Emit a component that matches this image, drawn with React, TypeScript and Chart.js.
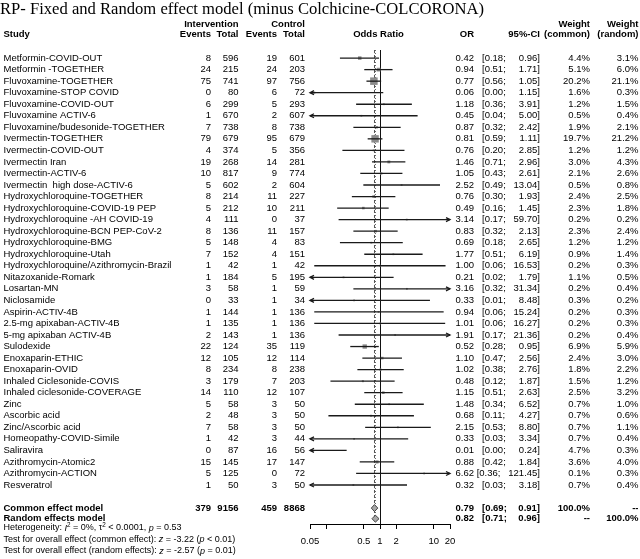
import { useEffect, useRef } from 'react';
import { Chart, registerables } from 'chart.js';

Chart.register(...registerables);

const FONT = '"Liberation Sans", Arial, sans-serif';
const SERIF = '"Liberation Serif", "Times New Roman", serif';

const titleText = 'RP- Fixed and Random effect model (minus Colchicine-COLCORONA)';

const studies = [
  'Metformin-COVID-OUT', 'Metformin -TOGETHER', 'Fluvoxamine-TOGETHER', 'Fluvoxamine-STOP COVID',
  'Fluvoxamine-COVID-OUT', 'Fluvoxamine ACTIV-6', 'Fluvoxamine/budesonide-TOGETHER', 'Ivermectin-TOGETHER',
  'Ivermectin-COVID-OUT', 'Ivermectin Iran', 'Ivermectin-ACTIV-6', 'Ivermectin  high dose-ACTIV-6',
  'Hydroxychloroquine-TOGETHER', 'Hydroxychloroquine-COVID-19 PEP', 'Hydroxychloroquine -AH COVID-19',
  'Hydroxychloroquine-BCN PEP-CoV-2', 'Hydroxychloroquine-BMG', 'Hydroxychloroquine-Utah',
  'Hydroxychloroquine/Azithromycin-Brazil', 'Nitazoxanide-Romark', 'Losartan-MN', 'Niclosamide',
  'Aspirin-ACTIV-4B', '2.5-mg apixaban-ACTIV-4B', '5-mg apixaban ACTIV-4B', 'Sulodexide',
  'Enoxaparin-ETHIC', 'Enoxaparin-OVID', 'Inhaled Ciclesonide-COVIS', 'Inhaled ciclesonide-COVERAGE',
  'Zinc', 'Ascorbic acid', 'Zinc/Ascorbic acid', 'Homeopathy-COVID-Simile', 'Saliravira',
  'Azithromycin-Atomic2', 'Azithromycin-ACTION', 'Resveratrol',
];
const intEvents = [8, 24, 75, 0, 6, 1, 7, 79, 4, 19, 10, 5, 8, 5, 4, 8, 5, 7, 1, 1, 3, 0, 1, 1, 2, 22, 12, 8, 3, 14, 5, 2, 7, 1, 0, 15, 5, 1];
const intTotal = [596, 215, 741, 80, 299, 670, 738, 679, 374, 268, 817, 602, 214, 212, 111, 136, 148, 152, 42, 184, 58, 33, 144, 135, 143, 124, 105, 234, 179, 110, 58, 48, 58, 42, 87, 145, 125, 50];
const ctrlEvents = [19, 24, 97, 6, 5, 2, 8, 95, 5, 14, 9, 2, 11, 10, 0, 11, 4, 4, 1, 5, 1, 1, 1, 1, 1, 35, 12, 8, 7, 12, 3, 3, 3, 3, 16, 17, 0, 3];
const ctrlTotal = [601, 203, 756, 72, 293, 607, 738, 679, 356, 281, 774, 604, 227, 211, 37, 157, 83, 151, 42, 195, 59, 34, 136, 136, 136, 119, 114, 238, 203, 107, 50, 50, 50, 44, 56, 147, 72, 50];
const orValues = [0.42, 0.94, 0.77, 0.06, 1.18, 0.45, 0.87, 0.81, 0.76, 1.46, 1.05, 2.52, 0.76, 0.49, 3.14, 0.83, 0.69, 1.77, 1.00, 0.21, 3.16, 0.33, 0.94, 1.01, 1.91, 0.52, 1.10, 1.02, 0.48, 1.15, 1.48, 0.68, 2.15, 0.33, 0.01, 0.88, 6.62, 0.32];
const ciLower = [0.18, 0.51, 0.56, 0.00, 0.36, 0.04, 0.32, 0.59, 0.20, 0.71, 0.43, 0.49, 0.30, 0.16, 0.17, 0.32, 0.18, 0.51, 0.06, 0.02, 0.32, 0.01, 0.06, 0.06, 0.17, 0.28, 0.47, 0.38, 0.12, 0.51, 0.34, 0.11, 0.53, 0.03, 0.00, 0.42, 0.36, 0.03];
const ciUpper = [0.96, 1.71, 1.05, 1.15, 3.91, 5.00, 2.42, 1.11, 2.85, 2.96, 2.61, 13.04, 1.93, 1.45, 59.70, 2.13, 2.65, 6.19, 16.53, 1.79, 31.34, 8.48, 15.24, 16.27, 21.36, 0.95, 2.56, 2.76, 1.87, 2.63, 6.52, 4.27, 8.80, 3.34, 0.24, 1.84, 121.45, 3.18];
const weightCommon = [4.4, 5.1, 20.2, 1.6, 1.2, 0.5, 1.9, 19.7, 1.2, 3.0, 2.1, 0.5, 2.4, 2.3, 0.2, 2.3, 1.2, 0.9, 0.2, 1.1, 0.2, 0.3, 0.2, 0.2, 0.2, 6.9, 2.4, 1.8, 1.5, 2.5, 0.7, 0.7, 0.7, 0.7, 4.7, 3.6, 0.1, 0.7];
const weightRandom = [3.1, 6.0, 21.1, 0.3, 1.5, 0.4, 2.1, 21.2, 1.2, 4.3, 2.6, 0.8, 2.5, 1.8, 0.2, 2.4, 1.2, 1.4, 0.3, 0.5, 0.4, 0.2, 0.3, 0.3, 0.4, 5.9, 3.0, 2.2, 1.2, 3.2, 1.0, 0.6, 1.1, 0.4, 0.3, 4.0, 0.3, 0.4];

const pooledLabels = ['Common effect model', 'Random effects model'];
const pooledOR = [0.79, 0.82];
const pooledLower = [0.69, 0.71];
const pooledUpper = [0.91, 0.96];
const pooledWeightCommon = ['100.0%', '--'];
const pooledWeightRandom = ['--', '100.0%'];
const totals = [379, 9156, 459, 8868];

const tickValues = [0.05, 0.1, 0.5, 1, 2, 10, 20];
const tickLabels = ['0.05', '', '0.5', '1', '2', '10', '20'];

type Seg = { t: string; italic?: boolean; sup?: boolean };
const statLines: Seg[][] = [
  [{ t: 'Heterogeneity: ' }, { t: 'I', italic: true }, { t: '2', sup: true }, { t: ' = 0%, ' }, { t: '\u03c4' }, { t: '2', sup: true }, { t: ' < 0.0001, ' }, { t: 'p', italic: true }, { t: ' = 0.53' }],
  [{ t: 'Test for overall effect (common effect): ' }, { t: 'z', italic: true }, { t: ' = -3.22 (' }, { t: 'p', italic: true }, { t: ' < 0.01)' }],
  [{ t: 'Test for overall effect (random effects): ' }, { t: 'z', italic: true }, { t: ' = -2.57 (' }, { t: 'p', italic: true }, { t: ' = 0.01)' }],
];

const X_MIN = 0.05;
const X_MAX = 20;
const ROW_COMMON = 40;
const ROW_RANDOM = 40.92;

function drawRich(ctx: CanvasRenderingContext2D, segs: Seg[], x: number, y: number, size: number) {
  let cx = x;
  for (const s of segs) {
    const fs = s.sup ? size * 0.7 : size;
    ctx.font = `${s.italic ? 'italic ' : ''}${fs}px ${FONT}`;
    ctx.fillText(s.t, cx, s.sup ? y - size * 0.35 : y);
    cx += ctx.measureText(s.t).width;
  }
}

const forestPlugin = {
  id: 'forest',
  beforeDatasetsDraw(chart: any) {
    const ctx: CanvasRenderingContext2D = chart.ctx;
    const xs = chart.scales.x;
    const ys = chart.scales.y;
    const top = chart.chartArea.top;
    const bottom = chart.chartArea.bottom;
    ctx.save();
    const x1 = Math.round(xs.getPixelForValue(1)) + 0.5;
    ctx.strokeStyle = '#111';
    ctx.lineWidth = 1;
    ctx.beginPath();
    ctx.moveTo(x1, top);
    ctx.lineTo(x1, bottom);
    ctx.stroke();
    const yEnd = ys.getPixelForValue(ROW_RANDOM);
    ctx.strokeStyle = '#555';
    ctx.setLineDash([3, 2]);
    ctx.beginPath();
    ctx.moveTo(xs.getPixelForValue(pooledOR[0]), top);
    ctx.lineTo(xs.getPixelForValue(pooledOR[0]), yEnd);
    ctx.stroke();
    ctx.setLineDash([1, 2]);
    ctx.beginPath();
    ctx.moveTo(xs.getPixelForValue(pooledOR[1]), top);
    ctx.lineTo(xs.getPixelForValue(pooledOR[1]), yEnd);
    ctx.stroke();
    ctx.restore();
  },
  afterDatasetsDraw(chart: any) {
    const ctx: CanvasRenderingContext2D = chart.ctx;
    const xs = chart.scales.x;
    const ys = chart.scales.y;
    const left = chart.chartArea.left;
    const right = chart.chartArea.right;
    ctx.save();
    ctx.strokeStyle = '#1a1a1a';
    ctx.lineWidth = 1.3;
    for (let i = 0; i < studies.length; i++) {
      const y = ys.getPixelForValue(i + 1);
      const lo = ciLower[i];
      const hi = ciUpper[i];
      const clipL = lo < X_MIN;
      const clipR = hi > X_MAX;
      const xl = clipL ? left : xs.getPixelForValue(lo);
      const xr = clipR ? right : xs.getPixelForValue(hi);
      ctx.beginPath();
      ctx.moveTo(xl, y);
      ctx.lineTo(xr, y);
      ctx.stroke();
      if (clipL) {
        ctx.beginPath();
        ctx.moveTo(xl + 4, y - 2);
        ctx.lineTo(xl, y);
        ctx.lineTo(xl + 4, y + 2);
        ctx.stroke();
      }
      if (clipR) {
        ctx.beginPath();
        ctx.moveTo(xr - 4, y - 2);
        ctx.lineTo(xr, y);
        ctx.lineTo(xr - 4, y + 2);
        ctx.stroke();
      }
    }
    ctx.lineWidth = 1;
    const rows = [ROW_COMMON, ROW_RANDOM];
    for (let k = 0; k < 2; k++) {
      const y = ys.getPixelForValue(rows[k]);
      const xl = xs.getPixelForValue(pooledLower[k]);
      const xr = xs.getPixelForValue(pooledUpper[k]);
      const xc = xs.getPixelForValue(pooledOR[k]);
      ctx.beginPath();
      ctx.moveTo(xl, y);
      ctx.lineTo(xc, y - 3.5);
      ctx.lineTo(xr, y);
      ctx.lineTo(xc, y + 3.5);
      ctx.closePath();
      ctx.fillStyle = '#a8a8a8';
      ctx.fill();
      ctx.strokeStyle = '#444';
      ctx.stroke();
    }
    ctx.restore();
  },
  afterDraw(chart: any) {
    const ctx: CanvasRenderingContext2D = chart.ctx;
    const ys = chart.scales.y;
    ctx.save();
    ctx.fillStyle = '#000';
    ctx.font = `16.6px ${SERIF}`;
    ctx.textAlign = 'left';
    ctx.textBaseline = 'alphabetic';
    ctx.fillText(titleText, 0, 14);

    const FS = 9.5;
    const reg = `${FS}px ${FONT}`;
    const bold = `bold ${FS}px ${FONT}`;
    ctx.textBaseline = 'middle';
    const txt = (s: string, x: number, y: number, align: CanvasTextAlign, f: string) => {
      ctx.font = f;
      ctx.textAlign = align;
      ctx.fillText(s, x, y);
    };
    const cEv = 211, cTot = 238.5, kEv = 277, kTot = 305, cOR = 474, cLo = 482, cHi = 540, cWc = 590, cWr = 638.5;
    const h1 = 24, h2 = 34.5;
    txt('Intervention', cTot, h1, 'right', bold);
    txt('Control', kTot, h1, 'right', bold);
    txt('Weight', cWc, h1, 'right', bold);
    txt('Weight', cWr, h1, 'right', bold);
    txt('Study', 3.5, h2, 'left', bold);
    txt('Events', cEv, h2, 'right', bold);
    txt('Total', cTot, h2, 'right', bold);
    txt('Events', kEv, h2, 'right', bold);
    txt('Total', kTot, h2, 'right', bold);
    txt('Odds Ratio', 378.5, h2, 'center', bold);
    txt('OR', cOR, h2, 'right', bold);
    txt('95%-CI', cHi, h2, 'right', bold);
    txt('(common)', cWc, h2, 'right', bold);
    txt('(random)', cWr, h2, 'right', bold);

    for (let i = 0; i < studies.length; i++) {
      const y = ys.getPixelForValue(i + 1);
      txt(studies[i], 3.5, y, 'left', reg);
      txt(String(intEvents[i]), cEv, y, 'right', reg);
      txt(String(intTotal[i]), cTot, y, 'right', reg);
      txt(String(ctrlEvents[i]), kEv, y, 'right', reg);
      txt(String(ctrlTotal[i]), kTot, y, 'right', reg);
      txt(orValues[i].toFixed(2), cOR, y, 'right', reg);
      const hiS = ciUpper[i].toFixed(2);
      txt('[' + ciLower[i].toFixed(2) + ';', cLo - (hiS.length > 5 ? 5.3 : 0), y, 'left', reg);
      txt(hiS + ']', cHi, y, 'right', reg);
      txt(weightCommon[i].toFixed(1) + '%', cWc, y, 'right', reg);
      txt(weightRandom[i].toFixed(1) + '%', cWr, y, 'right', reg);
    }
    const rows = [ROW_COMMON, ROW_RANDOM];
    for (let k = 0; k < 2; k++) {
      const y = ys.getPixelForValue(rows[k]);
      txt(pooledLabels[k], 3.5, y, 'left', bold);
      if (k === 0) {
        txt(String(totals[0]), cEv, y, 'right', bold);
        txt(String(totals[1]), cTot, y, 'right', bold);
        txt(String(totals[2]), kEv, y, 'right', bold);
        txt(String(totals[3]), kTot, y, 'right', bold);
      }
      txt(pooledOR[k].toFixed(2), cOR, y, 'right', bold);
      txt('[' + pooledLower[k].toFixed(2) + ';', cLo, y, 'left', bold);
      txt(pooledUpper[k].toFixed(2) + ']', cHi, y, 'right', bold);
      txt(pooledWeightCommon[k], cWc, y, 'right', bold);
      txt(pooledWeightRandom[k], cWr, y, 'right', bold);
    }
    ctx.textAlign = 'left';
    const statY = [528, 539.5, 551];
    statLines.forEach((segs, i) => drawRich(ctx, segs, 3.5, statY[i], 9));
    ctx.restore();
  },
};

export default function App() {
  const ref = useRef<HTMLCanvasElement | null>(null);
  useEffect(() => {
    const canvas = ref.current;
    if (!canvas) return;
    const points: { x: number; y: number }[] = [];
    const radii: number[] = [];
    orValues.forEach((v, i) => {
      if (v >= X_MIN && v <= X_MAX) {
        points.push({ x: v, y: i + 1 });
        const side = Math.max(1.8, 7.5 * Math.sqrt(weightCommon[i] / 20.2));
        radii.push(side / Math.SQRT2);
      }
    });
    const chart = new Chart(canvas, {
      type: 'scatter',
      data: {
        datasets: [
          {
            data: points,
            pointStyle: 'rect',
            pointRadius: radii,
            pointBackgroundColor: '#8c8c8c',
            pointBorderColor: '#8c8c8c',
            pointBorderWidth: 0,
          },
        ],
      },
      options: {
        responsive: false,
        animation: false,
        layout: { padding: { left: 310, right: 190, top: 50, bottom: 4.6 } },
        plugins: { legend: { display: false }, tooltip: { enabled: false }, title: { display: false } },
        scales: {
          x: {
            type: 'logarithmic',
            min: X_MIN,
            max: X_MAX,
            position: 'bottom',
            afterBuildTicks: (s: any) => {
              s.ticks = tickValues.map((v) => ({ value: v }));
            },
            ticks: {
              autoSkip: false,
              maxRotation: 0,
              minRotation: 0,
              padding: 7,
              color: '#000',
              font: { family: FONT, size: 9.5 },
              callback: (_v: any, idx: number) => tickLabels[idx],
            },
            grid: { drawOnChartArea: false, drawTicks: true, tickLength: 5, color: '#000' },
            border: { display: true, color: '#000' },
          },
          y: { type: 'linear', min: 0.3, max: 41.38, reverse: true, display: false },
        },
      } as any,
      plugins: [forestPlugin],
    });
    return () => chart.destroy();
  }, []);
  return (
    <div style={{ position: 'fixed', left: 0, top: 0, width: 640, height: 559, background: '#fff' }}>
      <canvas ref={ref} width={640} height={559} style={{ display: 'block' }} />
    </div>
  );
}
